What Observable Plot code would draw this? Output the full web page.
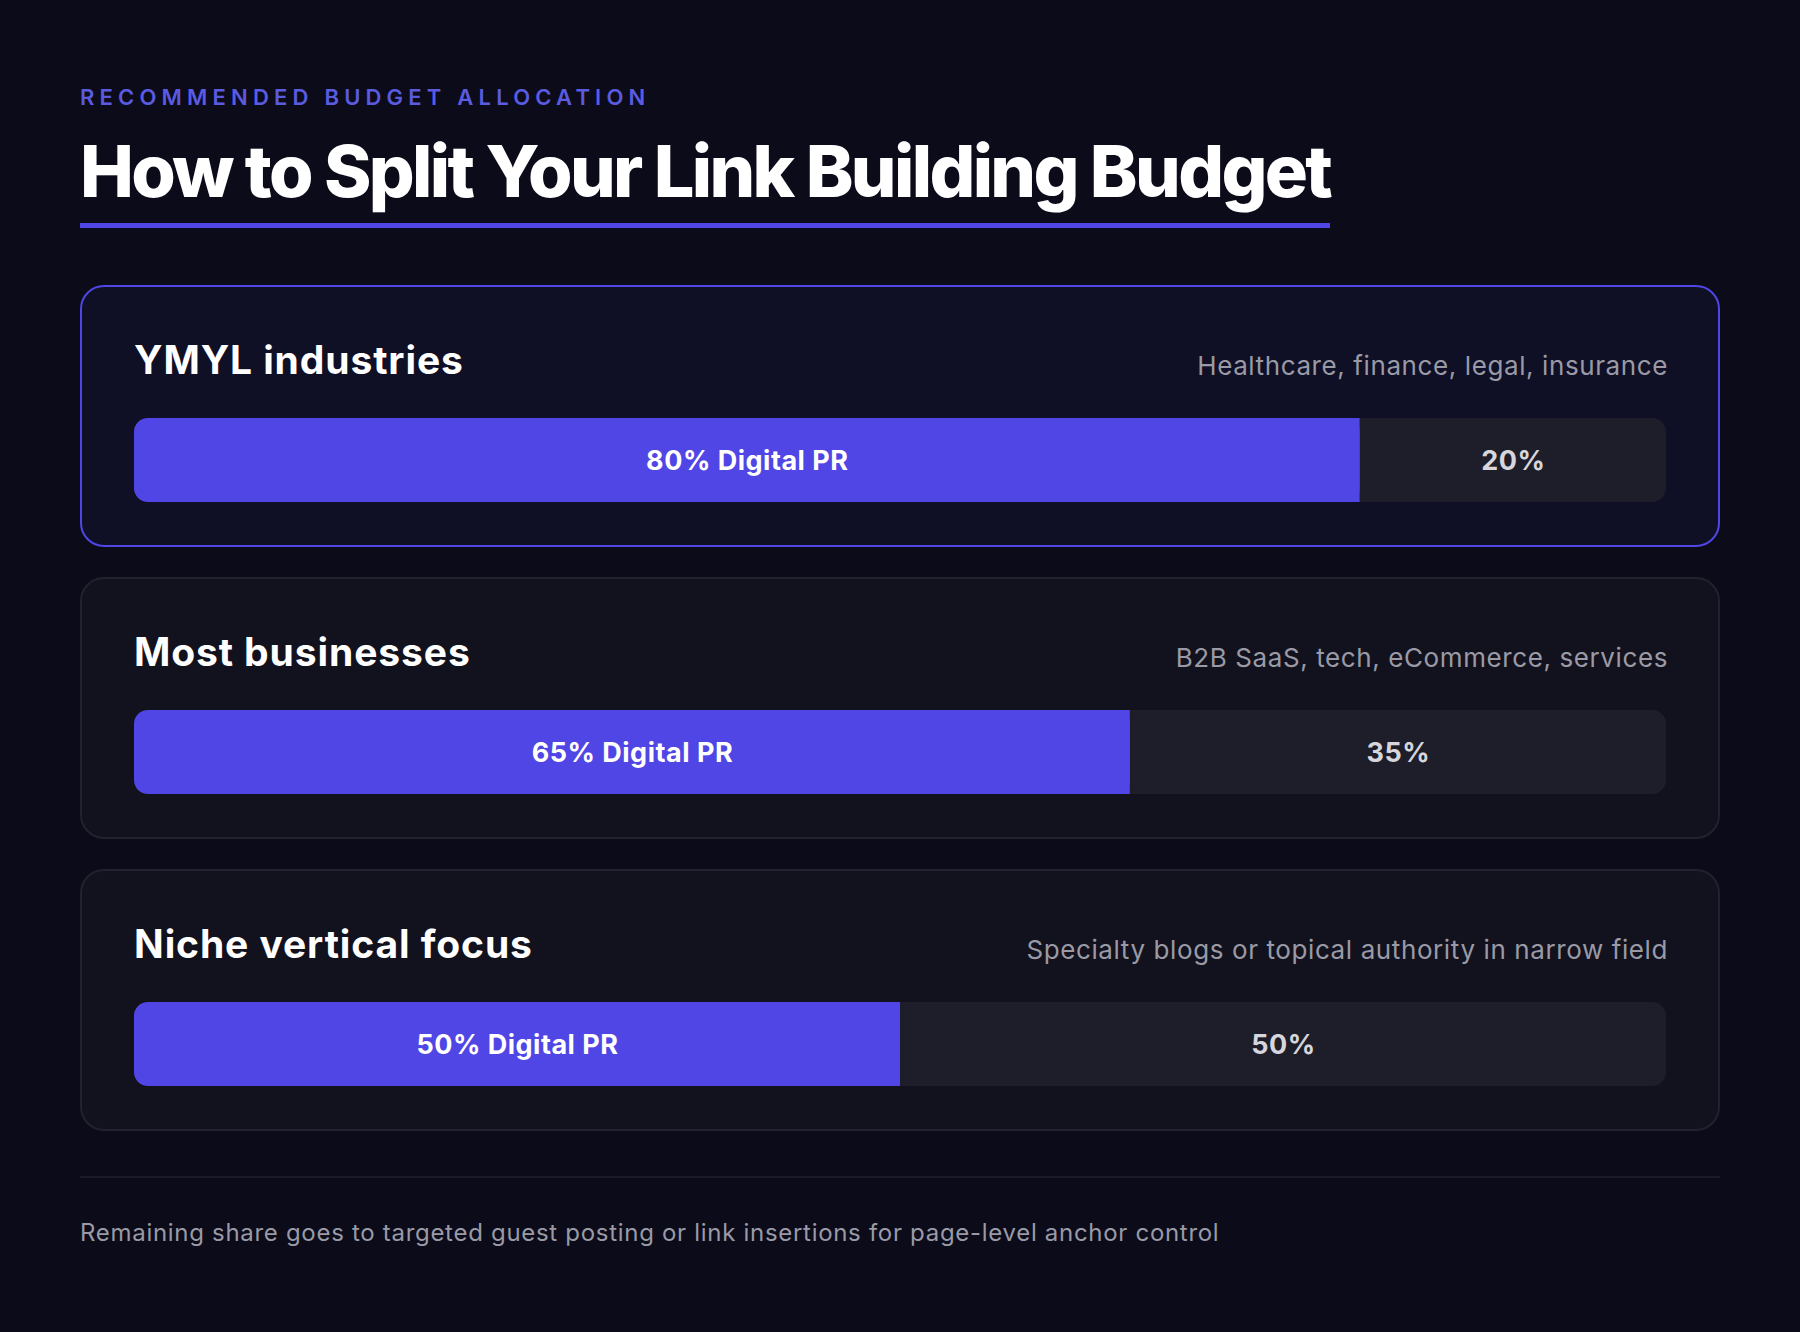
<!DOCTYPE html>
<html>
<head>
<meta charset="utf-8">
<script src="https://cdn.jsdelivr.net/npm/d3@7"></script>
<script src="https://cdn.jsdelivr.net/npm/@observablehq/plot@0.6"></script>
<style>
  html, body { margin: 0; padding: 0; background: #0b0b1a; }
  body { width: 1800px; height: 1332px; position: relative; overflow: hidden; font-family: Inter, "Noto Sans", sans-serif; }
  .eyebrow { position: absolute; left: 80px; top: 84px; font-size: 22px; font-weight: 600; letter-spacing: 5.2px; color: #5b5be0; line-height: 26px; }
  .title { position: absolute; left: 80px; top: 128px; font-size: 72px; font-weight: 800; letter-spacing: -0.037em; color: #ffffff; line-height: 86px; padding-bottom: 9px; border-bottom: 5px solid #4f46e5; }
  .card { position: absolute; left: 80px; width: 1640px; height: 262px; box-sizing: border-box; border-radius: 24px; background: #12121e; border: 2px solid #22222e; }
  .card.hl { background: #0f0f25; border-color: #4f46e5; }
  .card .name { position: absolute; left: 52px; top: 51px; font-size: 39px; font-weight: 700; letter-spacing: 0.9px; color: #ffffff; line-height: 44px; }
  .card .desc { position: absolute; right: 50px; top: 63px; font-size: 26px; font-weight: 400; letter-spacing: 0.6px; color: #9a9aa6; line-height: 32px; }
  .card .bar { position: absolute; left: 52px; top: 131px; }
  .divider { position: absolute; left: 80px; top: 1176px; width: 1640px; height: 2px; background: #1b1b28; }
  .foot { position: absolute; left: 80px; top: 1218px; font-size: 24px; letter-spacing: 0.7px; color: #9a9aa6; line-height: 30px; }
</style>
</head>
<body>
<div class="eyebrow" id="eyebrow"></div>
<div class="title" id="title"></div>
<div id="cards"></div>
<div class="divider"></div>
<div class="foot" id="foot"></div>
<script>
const eyebrowText = "RECOMMENDED BUDGET ALLOCATION";
const titleText = "How to Split Your Link Building Budget";
const footText = "Remaining share goes to targeted guest posting or link insertions for page-level anchor control";

const categories = ["YMYL industries", "Most businesses", "Niche vertical focus"];
const descriptions = ["Healthcare, finance, legal, insurance", "B2B SaaS, tech, eCommerce, services", "Specialty blogs or topical authority in narrow field"];
const digitalPR = [80, 65, 50];
const highlighted = [true, false, false];
const cardTops = [285, 577, 869];

document.getElementById("eyebrow").textContent = eyebrowText;
document.getElementById("title").textContent = titleText;
document.getElementById("foot").textContent = footText;

const cardsEl = document.getElementById("cards");
categories.forEach((cat, i) => {
  const card = document.createElement("div");
  card.className = "card" + (highlighted[i] ? " hl" : "");
  card.style.top = cardTops[i] + "px";
  const name = document.createElement("div");
  name.className = "name";
  name.textContent = cat;
  const desc = document.createElement("div");
  desc.className = "desc";
  desc.textContent = descriptions[i];
  card.appendChild(name);
  card.appendChild(desc);

  const v = digitalPR[i];
  const row = [{cat, pr: v, rest: 100 - v}];
  const chart = Plot.plot({
    width: 1532,
    height: 84,
    margin: 0,
    x: {domain: [0, 100], axis: null},
    y: {axis: null, padding: 0},
    style: {background: "transparent", fontFamily: "Inter, sans-serif", overflow: "visible", letterSpacing: "0.5px"},
    marks: [
      Plot.barX(row, {x1: 0, x2: 100, y: "cat", fill: "#1e1e2a", rx: 14}),
      Plot.barX(row, {x1: 0, x2: "pr", y: "cat", fill: "#4f46e5", rx: 14}),
      Plot.barX(row, {x1: d => d.pr / 2, x2: "pr", y: "cat", fill: "#4f46e5"}),
      Plot.text(row, {x: d => d.pr / 2, y: "cat", text: d => `${d.pr}% Digital PR`, fill: "#ffffff", fontSize: 27, fontWeight: 700, dy: 1}),
      Plot.text(row, {x: d => d.pr + d.rest / 2, y: "cat", text: d => `${d.rest}%`, fill: "#d6d6dc", fontSize: 27, fontWeight: 700, dy: 1})
    ]
  });
  chart.classList.add("bar");
  card.appendChild(chart);
  cardsEl.appendChild(card);
});
</script>
</body>
</html>
